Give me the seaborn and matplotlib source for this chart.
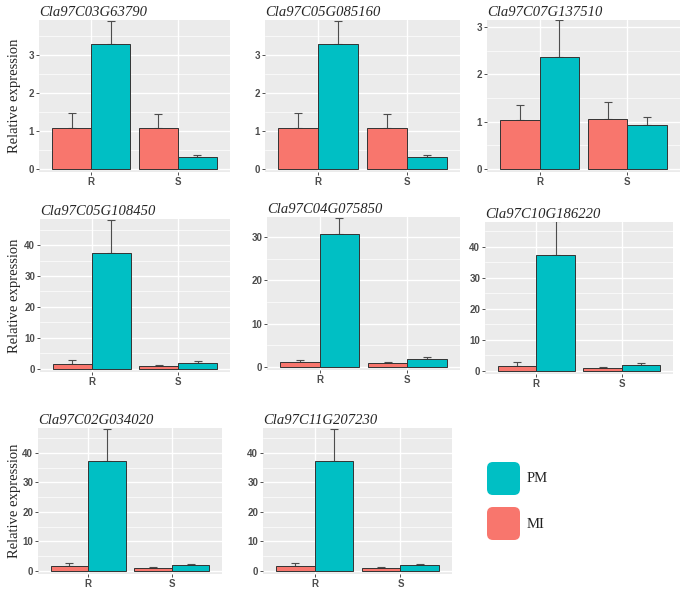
import numpy as np
import pandas as pd
import matplotlib
matplotlib.use("Agg")
import matplotlib.pyplot as plt
from matplotlib.patches import FancyBboxPatch
from matplotlib.ticker import MultipleLocator
import seaborn as sns

genes = ["Cla97C03G63790", "Cla97C05G085160", "Cla97C07G137510",
         "Cla97C05G108450", "Cla97C04G075850", "Cla97C10G186220",
         "Cla97C02G034020", "Cla97C11G207230"]
groups = ["R", "S"]
treatments = ["MI", "PM"]

# mean relative expression
mi_R = [1.07, 1.07, 1.03, 1.6, 1.05, 1.6, 1.6, 1.6]
pm_R = [3.27, 3.27, 2.37, 37.4, 30.6, 37.4, 37.4, 37.4]
mi_S = [1.07, 1.07, 1.05, 1.0, 1.0, 1.0, 1.0, 1.0]
pm_S = [0.31, 0.31, 0.94, 2.0, 1.8, 2.0, 2.0, 2.0]

# upper error bars
mi_R_err = [0.41, 0.41, 0.33, 1.2, 0.45, 1.2, 1.2, 1.2]
pm_R_err = [0.62, 0.62, 0.78, 10.8, 3.8, 10.8, 10.8, 10.8]
mi_S_err = [0.37, 0.37, 0.37, 0.4, 0.2, 0.4, 0.4, 0.4]
pm_S_err = [0.05, 0.05, 0.17, 0.5, 0.4, 0.5, 0.5, 0.5]

colors = {"MI": "#F8766D", "PM": "#00BFC4"}

# panel boxes in pixels (left, top, right, bottom), y limits, tick step
boxes = [(39, 20, 230, 172), (265, 20, 460, 172), (487, 20, 680, 172),
         (40, 219, 230, 372), (267, 217, 460, 370), (485, 222, 673, 374),
         (38, 428, 222, 574), (263, 428, 452, 574)]
ylims = [(-0.08, 3.91), (-0.08, 3.91), (-0.06, 3.15),
         (-1.0, 48.4), (-0.7, 34.6), (-1.0, 48.0),
         (-1.0, 48.4), (-1.0, 48.4)]
steps = [1, 1, 1, 10, 10, 10, 10, 10]

sns.set_style("darkgrid", {"axes.facecolor": "#EBEBEB", "grid.color": "white"})

W, H = 682, 590
fig = plt.figure(figsize=(W / 100, H / 100), dpi=100)

for i, gene in enumerate(genes):
    df = pd.DataFrame({
        "group": ["R", "R", "S", "S"],
        "treat": ["MI", "PM", "MI", "PM"],
        "value": [mi_R[i], pm_R[i], mi_S[i], pm_S[i]],
        "err": [mi_R_err[i], pm_R_err[i], mi_S_err[i], pm_S_err[i]],
    })
    l, t, r, b = boxes[i]
    ax = fig.add_axes([l / W, 1 - b / H, (r - l) / W, (b - t) / H])
    sns.barplot(data=df, x="group", y="value", hue="treat", order=groups,
                hue_order=treatments, palette=colors, width=0.9, errorbar=None,
                saturation=1, edgecolor="#333333", linewidth=0.7, legend=False,
                ax=ax, zorder=3)
    for cont, tr in zip(ax.containers, treatments):
        sub = df[df.treat == tr].set_index("group").loc[groups]
        xs = [p.get_x() + p.get_width() / 2 for p in cont]
        ax.errorbar(xs, sub["value"], yerr=[np.zeros(len(xs)), sub["err"]],
                    fmt="none", ecolor="#4D4D4D", elinewidth=0.8, capsize=3.2,
                    capthick=0.8, zorder=2)

    ax.set_xlim(-0.6, 1.6)
    ax.set_ylim(*ylims[i])
    ax.yaxis.set_major_locator(MultipleLocator(steps[i]))
    ax.yaxis.set_minor_locator(MultipleLocator(steps[i] / 2))
    ax.set_axisbelow(True)
    ax.grid(which="major", color="white", lw=1.0)
    ax.grid(which="minor", axis="y", color="white", lw=0.5)
    for s in ax.spines.values():
        s.set_visible(False)
    ax.tick_params(axis="both", which="major", left=True, bottom=True, length=2.5,
                   width=0.6, color="#333333", labelsize=7, labelcolor="#4D4D4D", pad=1)
    ax.tick_params(axis="y", which="minor", left=False)
    for lab in ax.get_xticklabels() + ax.get_yticklabels():
        lab.set_fontweight("bold")
        lab.set_family("Liberation Sans")
    ax.set_xlabel("")
    ax.set_ylabel("")
    ax.set_title(gene, loc="left", fontsize=10.5, fontstyle="italic",
                 family="Liberation Serif", pad=3)
    if i in (0, 3, 6):
        ax.set_ylabel("Relative expression", family="Liberation Serif", fontsize=10.5)
        ax.yaxis.set_label_coords((21 - l) / (r - l), 0.5)

# legend
lax = fig.add_axes([0, 0, 1, 1])
lax.set_xlim(0, W)
lax.set_ylim(H, 0)
lax.axis("off")
for tr, y0 in [("PM", 462), ("MI", 507)]:
    lax.add_patch(FancyBboxPatch((487, y0), 33, 33, boxstyle="round,pad=0,rounding_size=6",
                                 fc=colors[tr], ec="none"))
    lax.text(527, y0 + 17, tr, va="center", ha="left", fontsize=10.5,
             family="Liberation Serif", color="#222222")

fig.savefig("out.png", dpi=100)
